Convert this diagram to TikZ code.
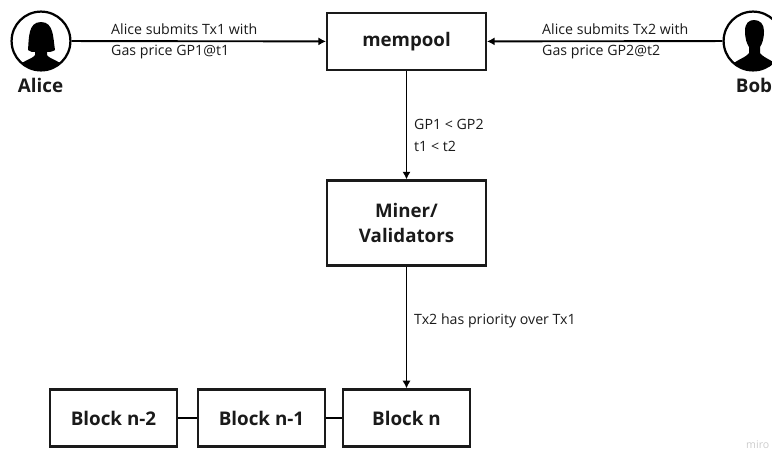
\documentclass[tikz,border=0pt]{standalone}
\usepackage{fontspec}
\setmainfont{Open Sans}
\usetikzlibrary{arrows.meta}

\definecolor{inkblack}{HTML}{1A1A1A}
\tikzset{
  box/.style={draw=inkblack,line width=1.9pt,inner sep=0pt,text=inkblack,font=\bfseries\fontsize{15.9}{22}\selectfont,align=center},
  bigbox/.style={box,minimum width=135pt,minimum height=48.5pt},
  blockbox/.style={box,minimum width=107.5pt,minimum height=48.5pt,font=\bfseries\fontsize{16}{20}\selectfont},
  avatar/.style={circle,draw=black,line width=1.9pt,minimum size=50pt,inner sep=0pt},
  who/.style={text=inkblack,font=\bfseries\fontsize{16}{20}\selectfont,inner sep=0pt},
  note/.style={anchor=west,align=left,inner sep=0pt,text=inkblack,font=\fontsize{12.05}{18}\selectfont},
  flow/.style={draw=black,line width=1.6pt,-{Latex[length=6.5pt,width=7pt]}},
  link/.style={draw=black,line width=1.6pt}
}

\begin{document}
\begin{tikzpicture}[x=.85pt,y=-.85pt]
  \clip (0,0) rectangle (772,452);

  % silhouettes
  \begin{scope}
    \clip (41,41) circle[radius=29];
    \fill[black] (28,50) .. controls (29,38) and (28,22) .. (41,22)
      .. controls (54,22) and (53,38) .. (55,50)
      .. controls (52,52) and (49,52) .. (47,52) -- (47,55)
      .. controls (50,60) and (62,60) .. (68,72) -- (14,72)
      .. controls (20,60) and (32,60) .. (35,55) -- (35,52)
      .. controls (33,52) and (30,52) .. (28,50) -- cycle;
  \end{scope}
  \begin{scope}
    \clip (753,41) circle[radius=29];
    \fill[black] (745,31) .. controls (745,23) and (749,20) .. (754,20)
      .. controls (760,20) and (764,24) .. (764,31)
      .. controls (764,39) and (762,44) .. (760,47) -- (760,53)
      .. controls (764,59) and (776,60) .. (782,72) -- (726,72)
      .. controls (732,60) and (745,59) .. (749,53) -- (749,47)
      .. controls (747,44) and (745,39) .. (745,31) -- cycle;
  \end{scope}

  \node[avatar] (alice) at (41,41) {};
  \node[avatar] (bob) at (753,41) {};
  \node[who] (alicename) at (40.5,85) {Alice};
  \node[who] (bobname) at (754,85) {Bob};

  \node[bigbox] (mempool) at (406.5,41.5) {mempool};
  \node[bigbox,minimum height=72.2pt] (miner) at (406.5,223) {Miner/\\Validators};

  \node[blockbox] (blockn2) at (113.5,418) {Block n-2};
  \node[blockbox] (blockn1) at (261.5,418) {Block n-1};
  \node[blockbox] (blockn) at (406.5,418) {Block n};

  \draw[flow] (alice) -- (mempool);
  \draw[flow] (bob) -- (mempool);
  \draw[flow] (mempool) -- (miner);
  \draw[flow] (miner) -- (blockn);
  \draw[link] (blockn2) -- (blockn1);
  \draw[link] (blockn1) -- (blockn);

  \node[note] (txone) at (111,41.5) {Alice submits Tx1 with\\Gas price GP1@t1};
  \node[note] (txtwo) at (542,41.5) {Alice submits Tx2 with\\Gas price GP2@t2};
  \node[note] (gas) at (414,135.5) {GP1 < GP2\\t1 < t2};
  \node[note] (priority) at (414,321) {Tx2 has priority over Tx1};

  \node[anchor=west,inner sep=0pt,text=black!20,font=\fontsize{9}{11}\selectfont] (miro) at (746,445) {miro};
\end{tikzpicture}
\end{document}
